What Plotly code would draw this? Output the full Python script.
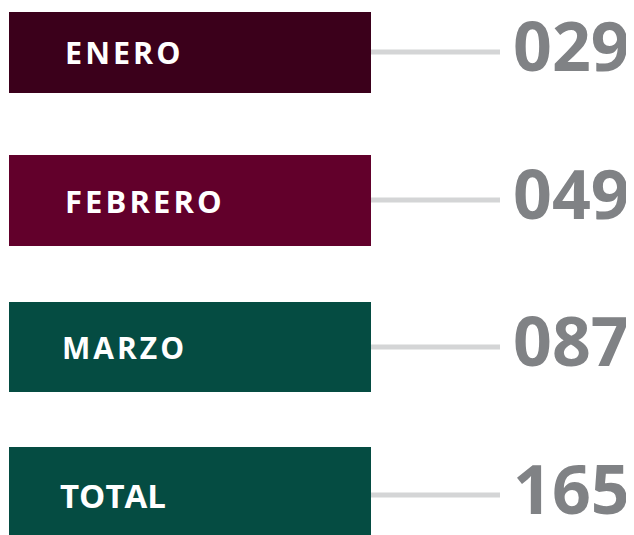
import plotly.graph_objects as go

# ---- data ----
categories = ["ENERO", "FEBRERO", "MARZO", "TOTAL"]
values = [29, 49, 87, 165]
box_colors = ["#3b001b", "#62002b", "#054c42", "#054c42"]

# ---- layout constants (page-pixel data units) ----
W, H = 634, 535
PAGE_MARGIN = 8  # default body margin of the html page
centers = [52, 200, 347, 492]
heights = [81, 91, 90, 90]
line_y = [52, 200, 347, 495]
label_y = [56.5, 205.5, 351, 500]
box_x0, box_x1 = 9, 371
line_x1 = 500
label_x = [65, 65, 62, 60]
label_size = [30.5, 31, 30, 33]
label_gap = ["\u200a", "\u200a", "\u200a", ""]
num_x = 513


fig = go.Figure()

fig.add_trace(go.Bar(
    orientation="h",
    y=centers,
    x=[box_x1 - box_x0] * len(categories),
    base=[box_x0] * len(categories),
    width=heights,
    marker=dict(color=box_colors, line=dict(width=0)),
    hoverinfo="skip",
    showlegend=False,
))

for yy in line_y:
    fig.add_trace(go.Scatter(
        x=[box_x1, line_x1], y=[yy, yy], mode="lines",
        line=dict(color="#d4d5d6", width=5),
        hoverinfo="skip", showlegend=False,
    ))

fig.add_trace(go.Scatter(
    x=label_x, y=label_y,
    mode="text",
    text=[g.join(list(c)) for c, g in zip(categories, label_gap)],
    textposition="middle right",
    textfont=dict(family="Open Sans", size=label_size, color="white", weight="bold"),
    hoverinfo="skip", showlegend=False,
))

fig.add_trace(go.Scatter(
    x=[num_x] * len(values), y=[ly + 2 for ly in line_y],
    mode="text",
    text=[f"{v:03d}" for v in values],
    textposition="middle right",
    textfont=dict(family="Open Sans", size=68, color="#808285", weight="bold"),
    hoverinfo="skip", showlegend=False,
))

fig.update_layout(
    width=W - PAGE_MARGIN, height=H - PAGE_MARGIN,
    margin=dict(l=0, r=0, t=0, b=0),
    paper_bgcolor="white", plot_bgcolor="white",
    xaxis=dict(range=[PAGE_MARGIN, W], visible=False, fixedrange=True),
    yaxis=dict(range=[H, PAGE_MARGIN], visible=False, fixedrange=True),
    bargap=0,
)

fig.write_html("out.html", config={"displayModeBar": False})
